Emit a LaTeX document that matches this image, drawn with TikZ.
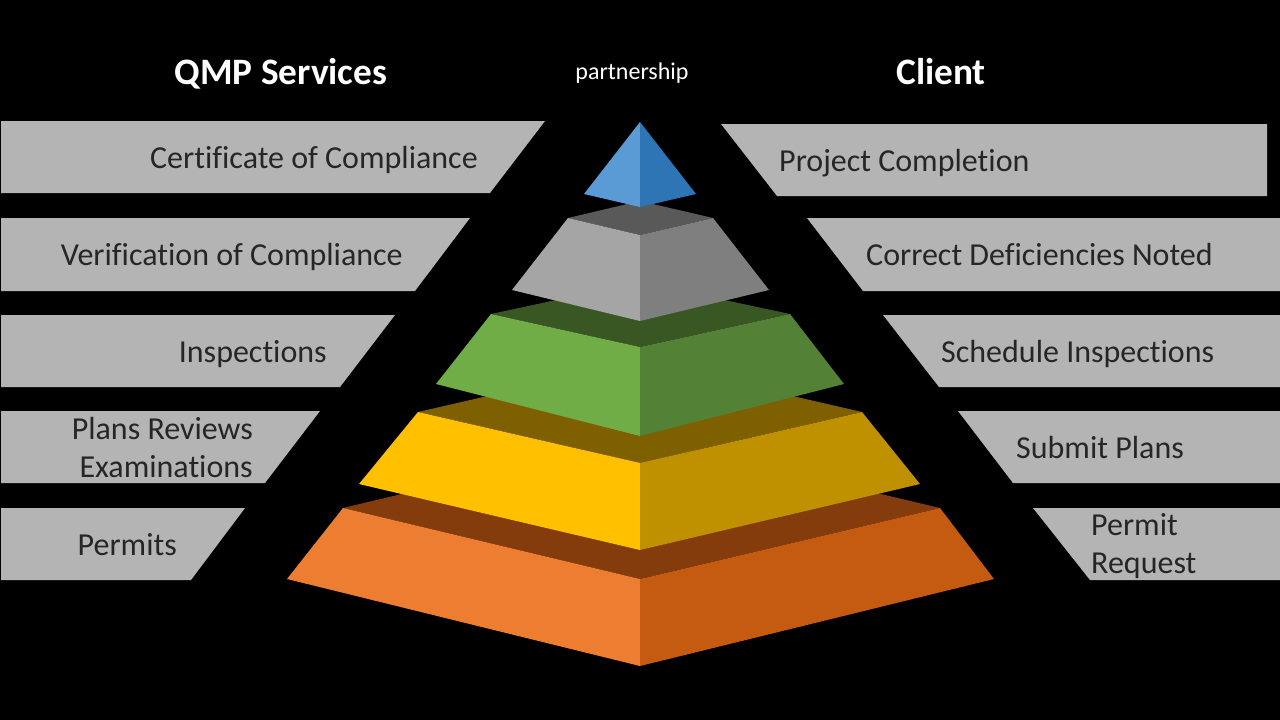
\documentclass[tikz,border=0pt]{standalone}
\usepackage{fontspec}
\setmainfont[Ligatures=NoCommon]{Carlito}
\begin{document}
\begin{tikzpicture}[x=1pt,y=-1pt,
  bar/.style={fill=barfill},
  lbl/.style={text=lbltext,inner sep=0pt,font=\fontsize{32}{38}\selectfont},
  ttl/.style={text=white,inner sep=0pt,font=\fontsize{37.3}{44}\selectfont\bfseries},
]
\definecolor{barfill}{HTML}{B4B4B4}
\definecolor{lbltext}{HTML}{262626}
\definecolor{bluel}{HTML}{5B9BD5}\definecolor{bluer}{HTML}{2E75B6}
\definecolor{grayt}{HTML}{595959}\definecolor{grayl}{HTML}{A5A5A5}\definecolor{grayr}{HTML}{7F7F7F}
\definecolor{greent}{HTML}{385723}\definecolor{greenl}{HTML}{70AD47}\definecolor{greenr}{HTML}{538135}
\definecolor{yellt}{HTML}{7F6000}\definecolor{yelll}{HTML}{FFC000}\definecolor{yellr}{HTML}{BF9000}
\definecolor{orat}{HTML}{843C0C}\definecolor{oral}{HTML}{ED7D31}\definecolor{orar}{HTML}{C55A11}
\fill[black] (0,0) rectangle (1280,720);
\useasboundingbox (0,0) rectangle (1280,720);

% titles
\node[ttl,anchor=base] (tq) at (281,84) {QMP Services};
\node[ttl,anchor=base] (tc) at (941,84) {Client};
\node[text=white,inner sep=0pt,anchor=base,font=\fontsize{24}{28}\selectfont] (tp) at (632,79) {partnership};

% left bars
\fill[bar] (1,121) -- (545,121) -- (490,193) -- (1,193) -- cycle;
\fill[bar] (1,218) -- (470,218) -- (415,291) -- (1,291) -- cycle;
\fill[bar] (1,315) -- (395,315) -- (340,387) -- (1,387) -- cycle;
\fill[bar] (1,411) -- (320,411) -- (265,483) -- (1,483) -- cycle;
\fill[bar] (1,508) -- (245,508) -- (191,580) -- (1,580) -- cycle;

% right bars
\fill[bar] (721,124) -- (1267,124) -- (1267,196) -- (777,196) -- cycle;
\fill[bar] (807,218) -- (1280,218) -- (1280,291) -- (863,291) -- cycle;
\fill[bar] (883,315) -- (1280,315) -- (1280,387) -- (939,387) -- cycle;
\fill[bar] (958,411) -- (1280,411) -- (1280,483) -- (1013,483) -- cycle;
\fill[bar] (1033,508) -- (1280,508) -- (1280,580) -- (1090,580) -- cycle;

% left labels
\node[lbl,anchor=base east] (l1) at (478,168) {Certificate of Compliance};
\node[lbl,anchor=base east] (l2) at (403,265) {Verification of Compliance};
\node[lbl,anchor=base east] (l3) at (327,362) {Inspections};
\node[lbl,anchor=base east,align=right] (l4) at (253,477) {Plans Reviews\\Examinations};
\node[lbl,anchor=base east] (l5) at (177,555) {Permits};

% right labels
\node[lbl,anchor=base west] (r1) at (779,171) {Project Completion};
\node[lbl,anchor=base west] (r2) at (866,265) {Correct Deficiencies Noted};
\node[lbl,anchor=base west] (r3) at (941,362) {Schedule Inspections};
\node[lbl,anchor=base west] (r4) at (1016,458) {Submit Plans};
\node[lbl,anchor=base west,align=left] (r5) at (1091,573) {Permit\\Request};

% pyramid: orange
\fill[orat] (343,508) -- (640,437) -- (940,508) -- (640,579) -- cycle;
\fill[oral] (343,508) -- (640,579) -- (640,666) -- (287,579) -- cycle;
\fill[orar] (640,579) -- (940,508) -- (994,579) -- (640,666) -- cycle;
% yellow
\fill[yellt] (418,412) -- (640,361) -- (862,412) -- (640,463) -- cycle;
\fill[yelll] (418,412) -- (640,463) -- (640,550) -- (359,484) -- cycle;
\fill[yellr] (640,463) -- (862,412) -- (920,484) -- (640,550) -- cycle;
% green
\fill[greent] (491,314) -- (640,282) -- (790,314) -- (640,347) -- cycle;
\fill[greenl] (491,314) -- (640,347) -- (640,436) -- (436,384) -- cycle;
\fill[greenr] (640,347) -- (790,314) -- (844,384) -- (640,436) -- cycle;
% gray
\fill[grayt] (568,218) -- (640,201) -- (713,218) -- (640,235) -- cycle;
\fill[grayl] (568,218) -- (640,235) -- (640,321) -- (512,290) -- cycle;
\fill[grayr] (640,235) -- (713,218) -- (769,290) -- (640,321) -- cycle;
% blue
\fill[bluel] (640,122) -- (640,207) -- (584,194) -- cycle;
\fill[bluer] (640,122) -- (696,194) -- (640,207) -- cycle;
\end{tikzpicture}
\end{document}
